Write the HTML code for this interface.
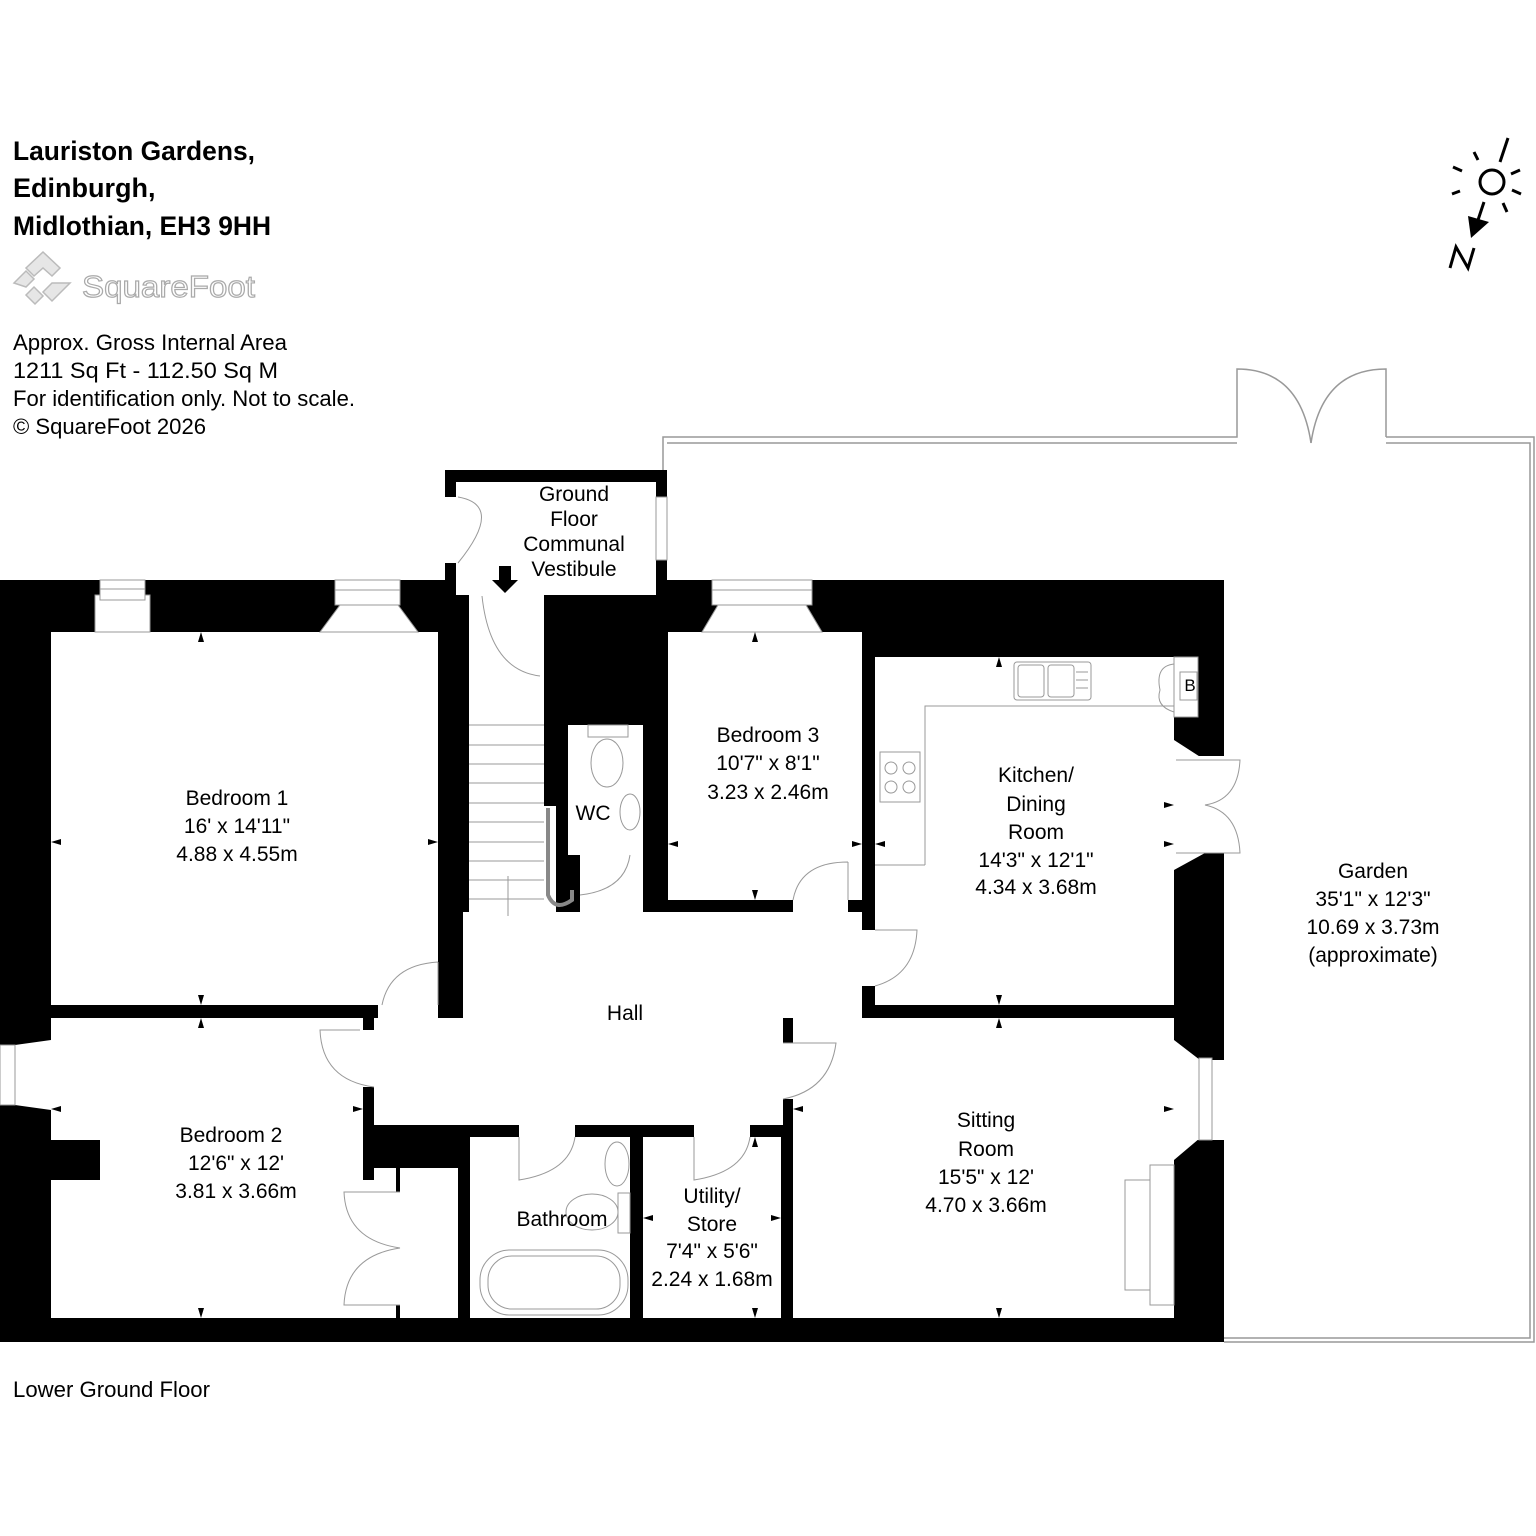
<!DOCTYPE html>
<html><head><meta charset="utf-8"><style>
html,body{margin:0;padding:0;background:#fff;}
svg{display:block;}
text{font-family:"Liberation Sans",Arial,sans-serif;}
</style></head><body>
<svg width="1536" height="1536" viewBox="0 0 1536 1536" xmlns="http://www.w3.org/2000/svg">
<rect width="1536" height="1536" fill="#fff"/>
<!-- header -->
<g font-weight="bold" font-size="27" fill="#000">
<text x="13" y="160" textLength="242" lengthAdjust="spacingAndGlyphs">Lauriston Gardens,</text>
<text x="13" y="197">Edinburgh,</text>
<text x="13" y="235" textLength="258" lengthAdjust="spacingAndGlyphs">Midlothian, EH3 9HH</text>
</g>
<g fill="none" stroke="#bbb" stroke-width="1.5">
<path d="M43 252 L60 268 L52 276 L43 268 L34 276 L26 268 Z" fill="#e6e6e6"/>
<path d="M14 283 L26 271 L34 279 L26 287 Z" fill="#e6e6e6"/>
<path d="M60 283 L70 283 L52 301 L43 292 L52 283 Z" fill="#e6e6e6"/>
<path d="M26 295 L34 287 L43 296 L35 304 Z" fill="#e6e6e6"/>
</g>
<text x="82" y="297" font-size="31" fill="#fff" stroke="#aaa" stroke-width="1.2" textLength="173" lengthAdjust="spacingAndGlyphs">SquareFoot</text>
<g font-size="22" fill="#000">
<text x="13" y="350" textLength="274" lengthAdjust="spacingAndGlyphs">Approx. Gross Internal Area</text>
<text x="13" y="378" textLength="265" lengthAdjust="spacingAndGlyphs">1211 Sq Ft  -  112.50 Sq M</text>
<text x="13" y="406" textLength="342" lengthAdjust="spacingAndGlyphs">For identification only. Not to scale.</text>
<text x="13" y="434" textLength="193" lengthAdjust="spacingAndGlyphs">© SquareFoot 2026</text>
<text x="13" y="1397" textLength="197" lengthAdjust="spacingAndGlyphs">Lower Ground Floor</text>
</g>
<!-- compass -->
<g stroke="#000" stroke-width="3" fill="none">
<circle cx="1492" cy="182" r="12"/>
<line x1="1500" y1="162" x2="1508" y2="138"/>
<line x1="1478" y1="160" x2="1474" y2="152"/>
<line x1="1462" y1="171" x2="1453" y2="167"/>
<line x1="1460" y1="191" x2="1452" y2="194"/>
<line x1="1503" y1="203" x2="1507" y2="212"/>
<line x1="1512" y1="190" x2="1521" y2="194"/>
<line x1="1511" y1="174" x2="1520" y2="170"/>
<line x1="1484" y1="202" x2="1478" y2="220"/>
<path d="M1450 268 L1456 247 L1468 268 L1474 248"/>
</g>
<path d="M1471 238 L1468 216 L1489 222 Z" fill="#000"/>
<!-- garden outline -->
<g fill="none" stroke="#999" stroke-width="1.5">
<path d="M663 580 L663 437 L1237 437 L1237 369 Q1300 369 1311 443"/>
<path d="M1386 437 L1386 369 Q1322 369 1311 443"/>
<path d="M1386 437 L1534 437 L1534 1342 L1224 1342"/>
<path d="M667 443 L1237 443 M1386 443 L1530 443 L1530 1338 L1224 1338"/>
</g>
<!-- building black mass -->
<rect x="0" y="580" width="1224" height="762" fill="#000"/>
<!-- vestibule -->
<rect x="445" y="470" width="222" height="125" fill="#000"/>
<rect x="456" y="482" width="200" height="113" fill="#fff"/>
<rect x="440" y="497" width="18" height="66" fill="#fff"/>
<rect x="656" y="497" width="11" height="63" fill="#fff" stroke="#999" stroke-width="1"/>
<rect x="483" y="580" width="56" height="20" fill="#fff"/>
<!-- bedroom 1 -->
<rect x="51" y="632" width="387" height="373" fill="#fff"/>
<rect x="378" y="1003" width="60" height="17" fill="#fff"/>
<!-- corridor/stairs -->
<rect x="469" y="594" width="75" height="330" fill="#fff"/>
<!-- WC -->
<rect x="568" y="725" width="75" height="130" fill="#fff"/>
<rect x="580" y="855" width="63" height="60" fill="#fff"/>
<rect x="544" y="806" width="12" height="118" fill="#fff"/>
<!-- bedroom 3 -->
<rect x="668" y="632" width="194" height="268" fill="#fff"/>
<rect x="793" y="898" width="55" height="16" fill="#fff"/>
<!-- kitchen -->
<rect x="875" y="657" width="299" height="348" fill="#fff"/>
<rect x="1174" y="657" width="24" height="60" fill="#fff"/>
<rect x="1174" y="756" width="52" height="97" fill="#fff"/>
<path d="M1174 740 L1205 760 L1174 760 Z M1174 870 L1205 853 L1174 853 Z" fill="#fff"/>
<rect x="860" y="930" width="17" height="56" fill="#fff"/>
<!-- hall -->
<rect x="463" y="912" width="399" height="106" fill="#fff"/>
<rect x="374" y="1018" width="409" height="107" fill="#fff"/>
<rect x="360" y="1030" width="20" height="57" fill="#fff"/>
<rect x="780" y="1043" width="16" height="56" fill="#fff"/>
<rect x="519" y="1120" width="56" height="20" fill="#fff"/>
<rect x="694" y="1120" width="56" height="20" fill="#fff"/>
<!-- bedroom 2 -->
<rect x="51" y="1018" width="312" height="300" fill="#fff"/>
<rect x="363" y="1180" width="33" height="138" fill="#fff"/>
<rect x="374" y="1168" width="22" height="12" fill="#fff"/>
<rect x="400" y="1168" width="58" height="150" fill="#fff"/>
<rect x="394" y="1192" width="8" height="113" fill="#fff"/>
<rect x="0" y="1045" width="51" height="60" fill="#fff"/>
<path d="M15 1045 L51 1040 L51 1110 L15 1105 Z" fill="#fff"/>
<rect x="51" y="1140" width="49" height="40" fill="#000"/>
<rect x="0" y="1045" width="15" height="60" fill="#fff" stroke="#999" stroke-width="1"/>
<!-- bathroom / utility / sitting -->
<rect x="470" y="1137" width="160" height="181" fill="#fff"/>
<rect x="643" y="1137" width="138" height="181" fill="#fff"/>
<rect x="793" y="1018" width="381" height="300" fill="#fff"/>
<rect x="1174" y="1060" width="52" height="80" fill="#fff"/>
<path d="M1174 1040 L1200 1060 L1174 1060 Z M1174 1160 L1200 1138 L1174 1138 Z" fill="#fff"/>
<rect x="1199" y="1058" width="13" height="82" fill="#fff" stroke="#999" stroke-width="1"/>
<!-- top windows -->
<g fill="#fff" stroke="#999" stroke-width="1">
<rect x="95" y="595" width="55" height="37"/>
<rect x="100" y="580" width="45" height="20"/>
<rect x="335" y="580" width="65" height="25"/>
<path d="M340 605 L398 605 L418 632 L320 632 Z"/>
<rect x="712" y="580" width="100" height="25"/>
<path d="M718 605 L806 605 L822 632 L702 632 Z"/>
<rect x="1174" y="657" width="24" height="60" fill="none"/>
</g>
<g stroke="#999" stroke-width="1" fill="none">
<line x1="100" y1="589" x2="145" y2="589"/><line x1="335" y1="590" x2="400" y2="590"/><line x1="712" y1="590" x2="812" y2="590"/>
<!-- doors -->
<path d="M458 497 Q505 505 458 563"/>
<path d="M540 676 Q490 670 482 596"/>
<path d="M438 962 L438 1005 M438 962 Q390 965 382 1005"/>
<path d="M374 1087 Q322 1080 320 1030 L360 1030"/>
<path d="M783 1043 L836 1043 Q830 1090 783 1099"/>
<path d="M875 930 L917 930 Q915 975 875 986"/>
<path d="M848 862 L848 900 M848 862 Q800 862 793 900"/>
<path d="M580 895 Q625 890 630 855"/>
<path d="M519 1137 L519 1180 Q570 1172 575 1137"/>
<path d="M694 1137 L694 1180 Q745 1172 750 1137"/>
<path d="M400 1192 L344 1192 Q346 1240 400 1248 Q346 1256 344 1305 L400 1305"/>
<path d="M1176 760 L1240 760 Q1238 800 1205 805 Q1238 812 1240 853 L1176 853"/>
<path d="M1174 664 Q1155 666 1160 690 Q1155 706 1174 712"/>
<!-- stairs -->
<path d="M469 725 H544 M469 745 H544 M469 764 H544 M469 783 H544 M469 803 H544 M469 822 H544 M469 842 H544 M469 861 H544 M469 880 H544 M469 899 H544"/>
<line x1="508" y1="916" x2="508" y2="876"/>
<path d="M548 808 L548 895 Q555 912 572 900 L572 890" stroke="#888" stroke-width="4"/>
<!-- kitchen fittings -->
<path d="M925 865 L875 865 M925 865 L925 706 L1174 706"/>
<rect x="1014" y="662" width="77" height="38" rx="3"/>
<rect x="1018" y="665" width="26" height="32" rx="3"/><rect x="1048" y="665" width="26" height="32" rx="3"/>
<path d="M1076 672 H1088 M1076 680 H1088 M1076 688 H1088"/>
<rect x="880" y="752" width="40" height="50"/>
<circle cx="891" cy="768" r="6"/><circle cx="909" cy="768" r="6"/><circle cx="891" cy="787" r="6"/><circle cx="909" cy="787" r="6"/>
<rect x="1180" y="672" width="17" height="28" fill="#fff"/>
<!-- WC fittings -->
<rect x="588" y="725" width="40" height="12"/>
<ellipse cx="607" cy="763" rx="16" ry="24"/>
<ellipse cx="630" cy="812" rx="10" ry="18"/>
<!-- bathroom fittings -->
<ellipse cx="617" cy="1164" rx="12" ry="22"/>
<ellipse cx="592" cy="1212" rx="26" ry="18"/>
<rect x="618" y="1193" width="12" height="40"/>
<rect x="480" y="1250" width="148" height="65" rx="30"/>
<rect x="488" y="1256" width="132" height="53" rx="24"/>
<!-- fireplace -->
<rect x="1125" y="1180" width="25" height="110"/>
<rect x="1150" y="1165" width="24" height="140"/>
</g>
<text x="1190" y="691" font-size="17" text-anchor="middle">B</text>
<!-- down arrow -->
<path d="M499 566 H511 V580 H518 L505 593 L492 580 H499 Z" fill="#000"/>
<!-- dimension ticks -->
<g fill="#000">
<path d="M201 632 l-3 10 h6z M201 1005 l-3 -10 h6z M51 842 l10 -3 v6z M438 842 l-10 -3 v6z"/>
<path d="M201 1018 l-3 10 h6z M201 1318 l-3 -10 h6z M51 1109 l10 -3 v6z M363 1109 l-10 -3 v6z"/>
<path d="M755 632 l-3 10 h6z M755 900 l-3 -10 h6z M668 844 l10 -3 v6z M862 844 l-10 -3 v6z"/>
<path d="M999 657 l-3 10 h6z M999 1005 l-3 -10 h6z M875 844 l10 -3 v6z M1174 844 l-10 -3 v6z M1174 805 l-10 -3 v6z"/>
<path d="M999 1018 l-3 10 h6z M999 1318 l-3 -10 h6z M793 1109 l10 -3 v6z M1174 1109 l-10 -3 v6z"/>
<path d="M755 1137 l-3 10 h6z M755 1318 l-3 -10 h6z M643 1218 l10 -3 v6z M781 1218 l-10 -3 v6z"/>
</g>
<!-- labels -->
<g font-size="21" fill="#000" text-anchor="middle">
<text x="574" y="501">Ground</text><text x="574" y="526">Floor</text><text x="574" y="551">Communal</text><text x="574" y="576">Vestibule</text>
<text x="237" y="805">Bedroom 1</text><text x="237" y="833">16' x 14'11"</text><text x="237" y="861">4.88 x 4.55m</text>
<text x="768" y="742">Bedroom 3</text><text x="768" y="770">10'7" x 8'1"</text><text x="768" y="799">3.23 x 2.46m</text>
<text x="1036" y="782">Kitchen/</text><text x="1036" y="811">Dining</text><text x="1036" y="839">Room</text><text x="1036" y="867">14'3" x 12'1"</text><text x="1036" y="894">4.34 x 3.68m</text>
<text x="593" y="820">WC</text>
<text x="625" y="1020">Hall</text>
<text x="231" y="1142">Bedroom 2</text><text x="236" y="1170">12'6" x 12'</text><text x="236" y="1198">3.81 x 3.66m</text>
<text x="562" y="1226">Bathroom</text>
<text x="712" y="1203">Utility/</text><text x="712" y="1231">Store</text><text x="712" y="1258">7'4" x 5'6"</text><text x="712" y="1286">2.24 x 1.68m</text>
<text x="986" y="1127">Sitting</text><text x="986" y="1156">Room</text><text x="986" y="1184">15'5" x 12'</text><text x="986" y="1212">4.70 x 3.66m</text>
<text x="1373" y="878">Garden</text><text x="1373" y="906">35'1" x 12'3"</text><text x="1373" y="934">10.69 x 3.73m</text><text x="1373" y="962">(approximate)</text>
</g>
</svg>
</body></html>
